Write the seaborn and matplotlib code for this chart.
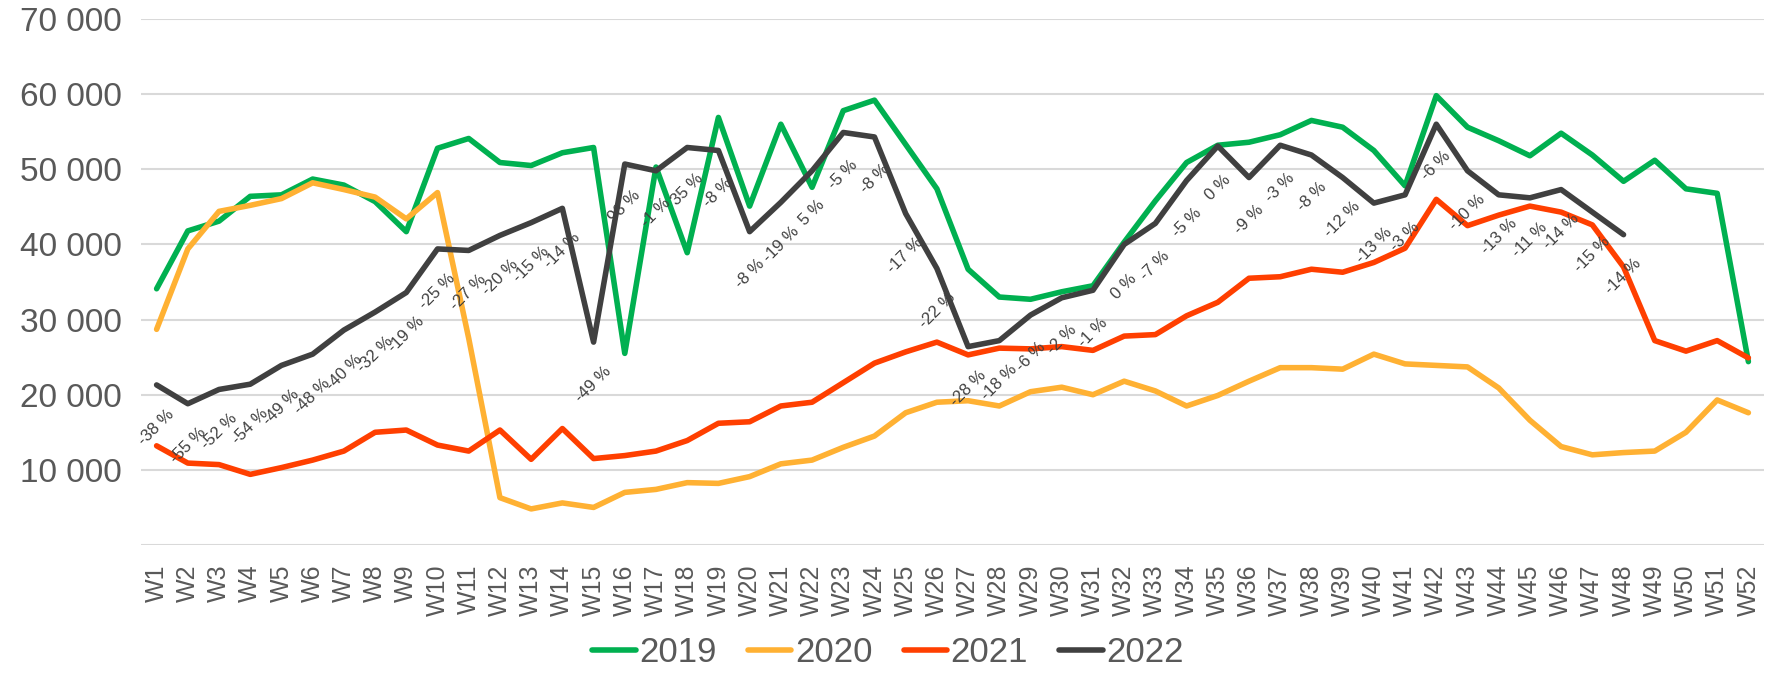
import numpy as np
import pandas as pd
import matplotlib
matplotlib.use("Agg")
import matplotlib.pyplot as plt
from matplotlib.ticker import FuncFormatter
import seaborn as sns

# weekly values
weeks = [f"W{i}" for i in range(1, 53)]

y2019 = [34100, 41800, 43100, 46400, 46600, 48700, 47900, 45700, 41700, 52800,
         54100, 50900, 50500, 52200, 52900, 25500, 50300, 38900, 56900, 45100,
         56000, 47600, 57800, 59200, 53300, 47400, 36700, 33000, 32700, 33700,
         34500, 40300, 45800, 50900, 53200, 53600, 54600, 56500, 55600, 52500,
         47800, 59800, 55600, 53800, 51800, 54800, 51900, 48400, 51200, 47400,
         46800, 24400]
y2020 = [28700, 39400, 44400, 45200, 46100, 48200, 47300, 46300, 43400, 46900,
         27500, 6300, 4800, 5600, 5000, 7000, 7400, 8300, 8200, 9100,
         10800, 11300, 13000, 14500, 17600, 19000, 19200, 18500, 20400, 21000,
         20000, 21800, 20500, 18500, 19900, 21800, 23600, 23600, 23400, 25400,
         24100, 23900, 23700, 20900, 16600, 13100, 12000, 12300, 12500, 15000,
         19300, 17600]
y2021 = [13200, 10900, 10700, 9400, 10300, 11300, 12500, 15000, 15300, 13300,
         12500, 15300, 11400, 15500, 11500, 11900, 12500, 13900, 16200, 16400,
         18500, 19000, 21600, 24200, 25700, 27000, 25300, 26200, 26100, 26400,
         25900, 27800, 28000, 30500, 32300, 35500, 35700, 36700, 36300, 37600,
         39500, 46000, 42500, 43900, 45100, 44300, 42600, 37000, 27200, 25800,
         27200, 24900]
y2022 = [21300, 18800, 20700, 21400, 23900, 25400, 28600, 31000, 33600, 39400,
         39200, 41200, 42900, 44800, 27000, 50700, 49800, 52900, 52500, 41700,
         45600, 49800, 54900, 54300, 44100, 36800, 26400, 27200, 30600, 32900,
         33900, 40000, 42800, 48500, 53100, 48900, 53200, 51900, 48900, 45500,
         46600, 56000, 49800, 46600, 46200, 47300, 44300, 41300]

# change 2022 vs 2019, as printed on the chart
pct_labels = ["-38 %", "-55 %", "-52 %", "-54 %", "-49 %", "-48 %", "-40 %", "-32 %",
              "-19 %", "-25 %", "-27 %", "-20 %", "-15 %", "-14 %", "-49 %", "98 %",
              "-1 %", "35 %", "-8 %", "-8 %", "-19 %", "5 %", "-5 %", "-8 %",
              "-17 %", "-22 %", "-28 %", "-18 %", "-6 %", "-2 %", "-1 %", "0 %",
              "-7 %", "-5 %", "0 %", "-9 %", "-3 %", "-8 %", "-12 %", "-13 %",
              "-3 %", "-6 %", "-10 %", "-13 %", "-11 %", "-14 %", "-15 %", "-14 %"]

years = ["2019", "2020", "2021", "2022"]
colors = ["#00B050", "#FFB133", "#FF3F00", "#404040"]

rows = []
for yr, vals in zip(years, [y2019, y2020, y2021, y2022]):
    for i, v in enumerate(vals):
        rows.append({"week": i + 1, "year": yr, "value": v})
df = pd.DataFrame(rows)

sns.set_style("white")
plt.rcParams["font.family"] = ["Liberation Sans", "DejaVu Sans"]

fig = plt.figure(figsize=(17.76, 6.73), dpi=100)
ax = fig.add_axes([141 / 1776, 128 / 673, (1764 - 141) / 1776, (545 - 19) / 673])

sns.lineplot(data=df, x="week", y="value", hue="year", palette=colors,
             linewidth=4.0, sort=False, legend=False, ax=ax)

# percentage labels under the 2022 line
for i, (v, lab) in enumerate(zip(y2022, pct_labels)):
    ax.annotate(lab, (i + 1, v), xytext=(0, -42), textcoords="offset pixels",
                rotation=45, ha="center", va="center", fontsize=12,
                color="#404040")

ax.set_xlim(0.5, 52.5)
ax.set_ylim(0, 70000)
ax.set_yticks(range(0, 70001, 10000))
ax.yaxis.set_major_formatter(FuncFormatter(
    lambda v, p: "" if v == 0 else f"{int(v):,}".replace(",", " ")))
ax.set_xticks(range(1, 53))
ax.set_xticklabels(weeks, rotation=90)
ax.tick_params(axis="y", length=0, pad=14, labelsize=24, labelcolor="#595959")
ax.tick_params(axis="x", length=0, pad=14, labelsize=18, labelcolor="#595959")
ax.grid(axis="y", color="#D9D9D9", linewidth=1.5)
ax.set_axisbelow(True)
for s in ax.spines.values():
    s.set_visible(False)
ax.set_xlabel("")
ax.set_ylabel("")

handles = [plt.Line2D([], [], color=c, linewidth=4.0, solid_capstyle="round") for c in colors]
fig.legend(handles, years, loc="center", bbox_to_anchor=(0.5, 20 / 673), ncol=4,
           frameon=False, fontsize=25, handlelength=1.25, handletextpad=0.1,
           columnspacing=0.9, labelcolor="#595959")

fig.savefig("out.png", dpi=100)
